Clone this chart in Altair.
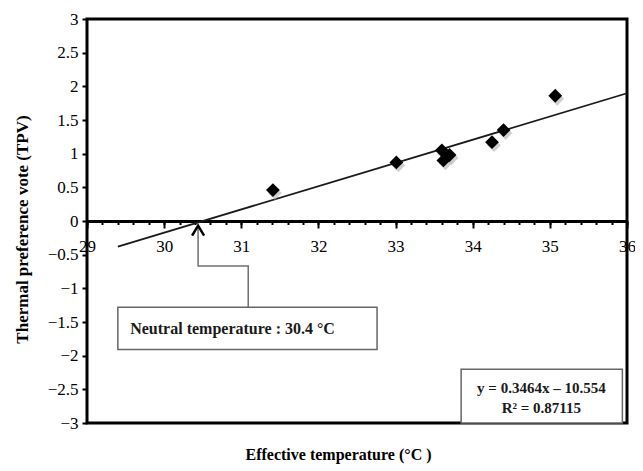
import altair as alt
import pandas as pd

# data
et = [31.41, 33.01, 33.60, 33.62, 33.70, 34.25, 34.40, 35.07]
tpv = [0.46, 0.87, 1.05, 0.90, 0.98, 1.17, 1.35, 1.86]

x_ticks = [29, 30, 31, 32, 33, 34, 35, 36]
x_minor = [round(29 + 0.2 * i, 1) for i in range(36)]
y_ticks = [-3, -2.5, -2, -1.5, -1, -0.5, 0, 0.5, 1, 1.5, 2, 2.5, 3]
trend_extent = [29.4, 36]

# annotations (data units)
neutral_t = 30.44
conn_x = [30.44, 30.44, 31.09, 31.09]
conn_y = [-0.07, -0.67, -0.67, -1.28]
nbox_x = [29.40, 32.76]
nbox_y = [-1.28, -1.91]
ntext_xy = [29.56, -1.60]
ntext = "Neutral temperature : 30.4 °C"
ebox_x = [33.85, 35.94]
ebox_y = [-2.20, -3.0]
eq_lines = ["y = 0.3464x – 10.554", "R² = 0.87115"]
eq_x = 34.89
eq_y = [-2.48, -2.78]

SERIF = "Liberation Serif"

df = pd.DataFrame({"et": et, "tpv": tpv})
xs = alt.Scale(domain=[29, 36], nice=False, zero=False)
ys = alt.Scale(domain=[-3, 3], nice=False, zero=False)

H = 404
major_axis = alt.Axis(
    orient="bottom", offset=-H / 2, values=x_ticks, format="d",
    labelFont=SERIF, labelFontSize=17, labelColor="black",
    labelPadding=10, labelFlush=False, labelOverlap=False, labelBound=False,
    tickSize=7, tickWidth=2, tickColor="black",
    domain=True, domainWidth=3, domainColor="black", grid=False,
    title="Effective temperature (°C )", titleFont=SERIF, titleFontSize=16,
    titleFontWeight="bold", titleColor="black", titleX=251, titleY=233,
    titleAlign="center", titleBaseline="middle", titleAngle=0,
)
minor_axis = alt.Axis(
    orient="bottom", offset=-H / 2, values=x_minor, labels=False,
    tickSize=3.5, tickWidth=2, tickColor="black", domain=False, grid=False,
    title=None,
)
y_axis = alt.Axis(
    orient="left", values=y_ticks, format="~g",
    labelFont=SERIF, labelFontSize=17, labelColor="black", labelPadding=4,
    tickSize=5, tickWidth=2, tickColor="black", domain=False, grid=False,
    title="Thermal preference vote (TPV)", titleFont=SERIF, titleFontSize=17,
    titleFontWeight="bold", titleColor="black", titleX=-65, titleY=210,
    titleAlign="center", titleBaseline="middle", titleAngle=-90,
)


def Y(field):
    return alt.Y(field, scale=ys, axis=y_axis, title="Thermal preference vote (TPV)")


base = alt.Chart(df)

minor = base.mark_point(opacity=0).encode(
    x=alt.X("et:Q", scale=xs, axis=minor_axis),
    y=Y("tpv:Q"),
)

trend = base.transform_regression("et", "tpv", extent=trend_extent).mark_line(
    color="#1a1a1a", strokeWidth=1.8
).encode(
    x=alt.X("et:Q", scale=xs, axis=None),
    y=Y("tpv:Q"),
)

shadow = base.mark_point(
    shape="diamond", filled=True, size=190, color="#b0b0b0", opacity=0.6,
    xOffset=2, yOffset=3,
).encode(
    x=alt.X("et:Q", scale=xs, axis=None),
    y=Y("tpv:Q"),
)

points = base.mark_point(
    shape="diamond", filled=True, size=190, color="black", opacity=1,
).encode(
    x=alt.X("et:Q", scale=xs, axis=major_axis),
    y=Y("tpv:Q"),
)

conn_df = pd.DataFrame({"x": conn_x, "tpv": conn_y, "o": list(range(len(conn_x)))})
connector = alt.Chart(conn_df).mark_line(color="#707070", strokeWidth=1.5).encode(
    x=alt.X("x:Q", scale=xs, axis=None),
    y=Y("tpv:Q"),
    order="o:Q",
)

arrow_df = pd.DataFrame({"x": [neutral_t], "tpv": [conn_y[0]]})
arrow = alt.Chart(arrow_df).mark_point(
    shape="M-0.6,1L0,0L0.6,1", filled=False, stroke="black", strokeWidth=2.5,
    size=400, opacity=1,
).encode(
    x=alt.X("x:Q", scale=xs, axis=None),
    y=Y("tpv:Q"),
)

nbox_df = pd.DataFrame({"x": [nbox_x[0]], "x2": [nbox_x[1]], "tpv": [nbox_y[0]], "y2": [nbox_y[1]]})
nbox = alt.Chart(nbox_df).mark_rect(fill="white", stroke="#666666", strokeWidth=1.5).encode(
    x=alt.X("x:Q", scale=xs, axis=None), x2="x2:Q",
    y=Y("tpv:Q"), y2="y2:Q",
)
ntext_df = pd.DataFrame({"x": [ntext_xy[0]], "tpv": [ntext_xy[1]], "t": [ntext]})
ntxt = alt.Chart(ntext_df).mark_text(
    align="left", baseline="middle", font=SERIF, fontSize=16, fontWeight="bold", color="#1a1a1a"
).encode(
    x=alt.X("x:Q", scale=xs, axis=None),
    y=Y("tpv:Q"),
    text="t:N",
)

ebox_df = pd.DataFrame({"x": [ebox_x[0]], "x2": [ebox_x[1]], "tpv": [ebox_y[0]], "y2": [ebox_y[1]]})
ebox = alt.Chart(ebox_df).mark_rect(fill="white", stroke="#666666", strokeWidth=1.5).encode(
    x=alt.X("x:Q", scale=xs, axis=None), x2="x2:Q",
    y=Y("tpv:Q"), y2="y2:Q",
)
etext_df = pd.DataFrame({"x": [eq_x, eq_x], "tpv": eq_y, "t": eq_lines})
etxt = alt.Chart(etext_df).mark_text(
    align="center", baseline="middle", font=SERIF, fontSize=15, fontWeight="bold", color="#1a1a1a"
).encode(
    x=alt.X("x:Q", scale=xs, axis=None),
    y=Y("tpv:Q"),
    text="t:N",
)

chart = alt.layer(
    minor, trend, connector, arrow, nbox, ntxt, ebox, etxt, shadow, points
).resolve_axis(x="independent").properties(
    width=540, height=H,
    autosize=alt.AutoSizeParams(type="none"),
    padding={"left": 79, "top": 11, "right": 8, "bottom": 44},
    background="white",
).configure_view(stroke="black", strokeWidth=3)

chart.save("out.html", embed_options={"renderer": "svg", "actions": False})
